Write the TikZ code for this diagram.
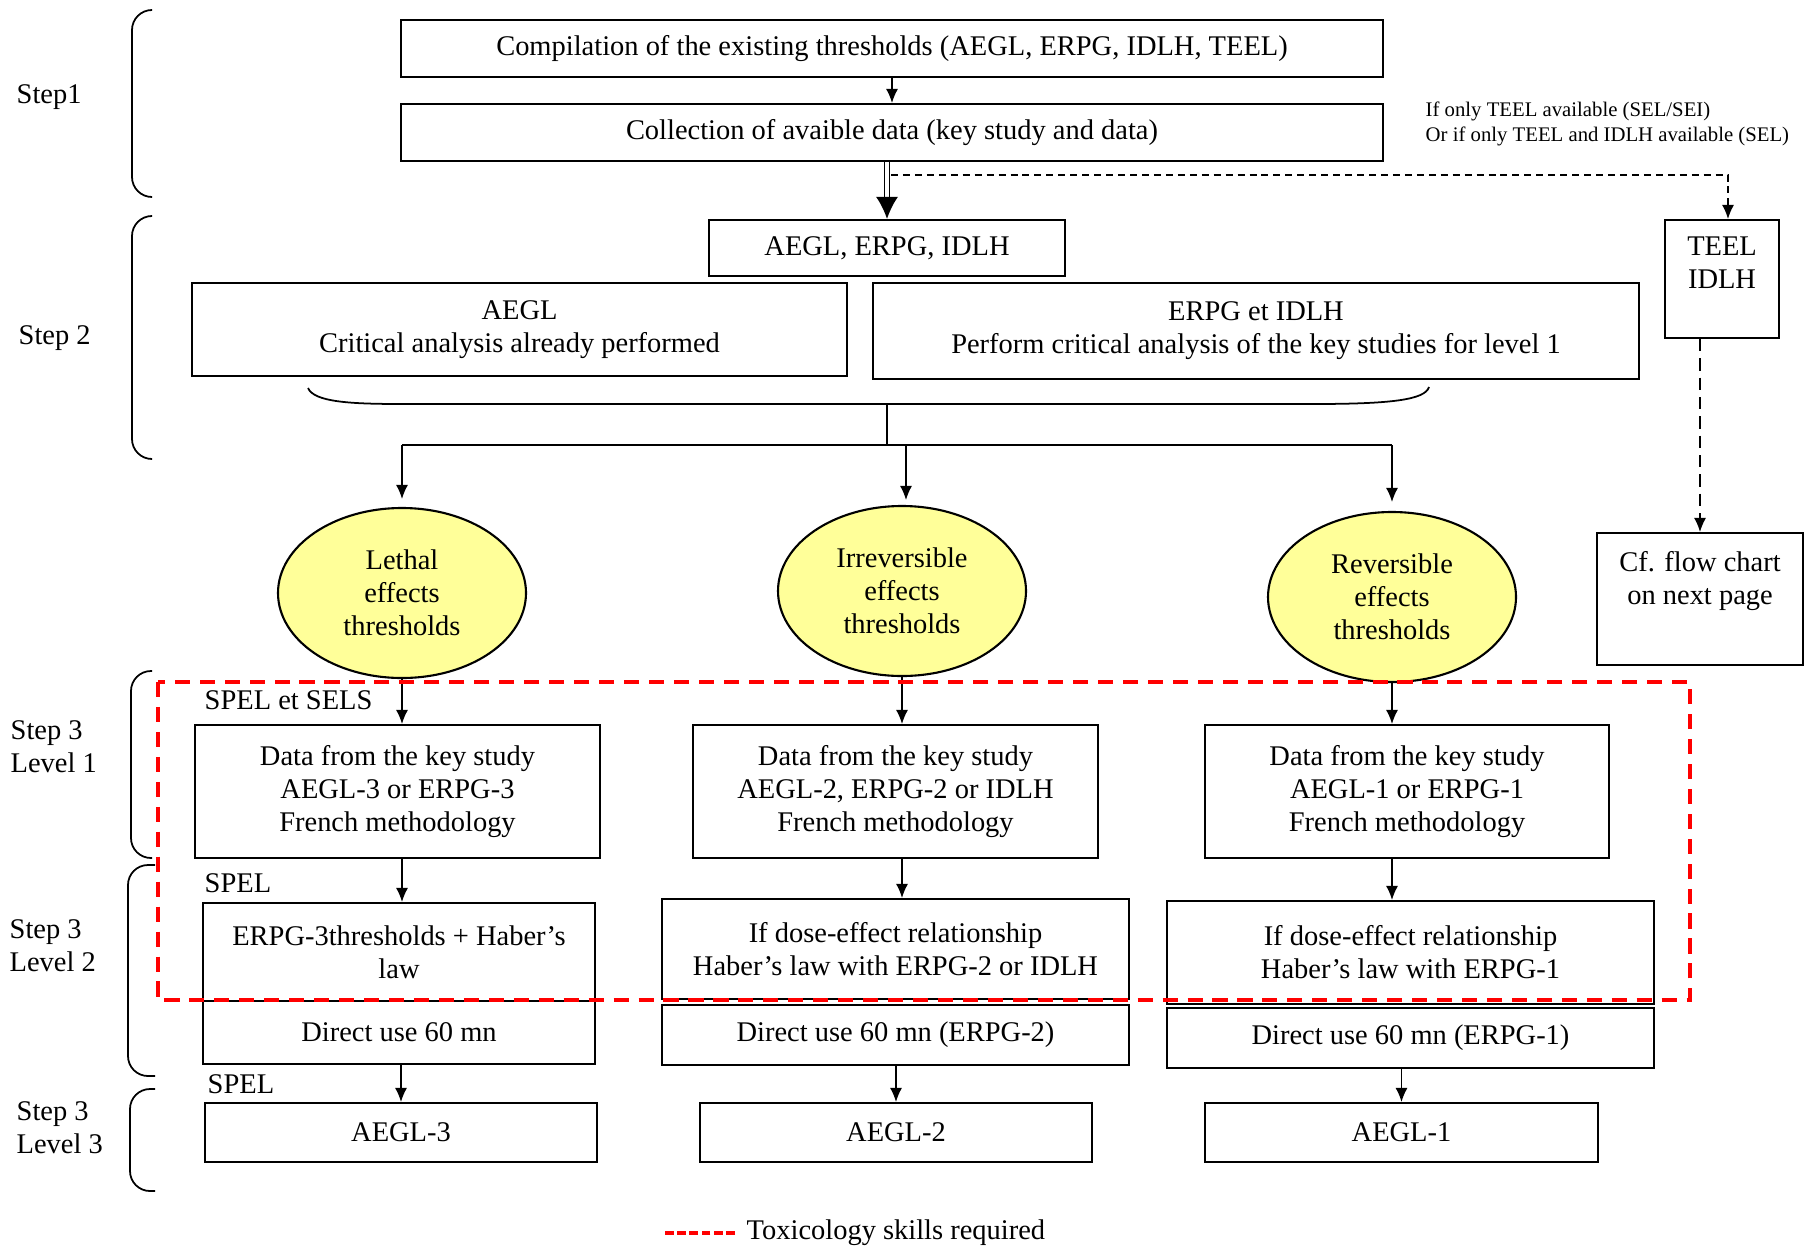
\documentclass[tikz,border=0pt]{standalone}
\usepackage{fontspec}
\setmainfont{Liberation Serif}
\usetikzlibrary{shapes.geometric,arrows.meta}
\definecolor{thryellow}{RGB}{255,255,153}

\begin{document}
\begin{tikzpicture}[x=1cm, y=-1cm, font=\fontsize{8.1}{9.4}\selectfont,
    box/.style={draw, line width=0.6pt, inner sep=0pt, align=center},
    thres/.style={ellipse, draw, line width=0.6pt, fill=thryellow, inner sep=0pt, align=center, minimum width=2.48cm, minimum height=1.70cm},
    arr/.style={-{Latex[length=1.4mm,width=1.2mm]}, line width=0.4pt},
    tox/.style={red, line width=0.95pt, dash pattern=on 4.3pt off 2.8pt},
    grp/.style={line width=0.5pt, rounded corners=0.2cm},
    lbl/.style={inner sep=0pt, align=left, anchor=west}]
\useasboundingbox (0,0) rectangle (18.05,12.47);

\node[box, minimum width=9.82cm, minimum height=0.57cm] (comp) at (8.92,0.485) {Compilation of the existing thresholds (AEGL, ERPG, IDLH, TEEL)};
\node[box, minimum width=9.82cm, minimum height=0.57cm] (coll) at (8.92,1.325) {Collection of avaible data (key study and data)};
\node[lbl, font=\fontsize{5.9}{7.1}\selectfont] (note) at (14.25,1.24) {If only TEEL available (SEL/SEI)\\Or if only TEEL and IDLH available (SEL)};

\node[box, minimum width=3.56cm, minimum height=0.56cm] (thr) at (8.87,2.48) {AEGL, ERPG, IDLH};
\node[box, minimum width=1.14cm, minimum height=1.18cm] (teel) at (17.22,2.79) {TEEL\\IDLH\\\mbox{}};
\node[box, minimum width=6.55cm, minimum height=0.93cm] (aegl) at (5.195,3.295) {AEGL\\Critical analysis already performed};
\node[box, minimum width=7.66cm, minimum height=0.96cm] (erpg) at (12.56,3.31) {ERPG et IDLH\\Perform critical analysis of the key studies for level 1};

\node[thres] (lethal) at (4.02,5.93) {Lethal\\effects\\thresholds};
\node[thres] (irrev) at (9.02,5.91) {Irreversible\\effects\\thresholds};
\node[thres] (rev) at (13.92,5.97) {Reversible\\effects\\thresholds};
\node[box, minimum width=2.06cm, minimum height=1.32cm] (cf) at (17.00,5.99) {Cf. flow chart\\on next page\\\strut};

\node[box, minimum width=4.05cm, minimum height=1.33cm] (l1a) at (3.975,7.915) {Data from the key study\\AEGL-3 or ERPG-3\\French methodology};
\node[box, minimum width=4.05cm, minimum height=1.33cm] (l1b) at (8.955,7.915) {Data from the key study\\AEGL-2, ERPG-2 or IDLH\\French methodology};
\node[box, minimum width=4.04cm, minimum height=1.33cm] (l1c) at (14.07,7.915) {Data from the key study\\AEGL-1 or ERPG-1\\French methodology};

\node[box, minimum width=3.92cm, minimum height=0.98cm] (l2a) at (3.99,9.52) {ERPG-3thresholds + Haber’s\\law};
\node[box, minimum width=3.92cm, minimum height=0.63cm] (l2a-low) at (3.99,10.325) {Direct use 60 mn};
\node[box, minimum width=4.67cm, minimum height=1.00cm] (l2b) at (8.955,9.49) {If dose-effect relationship\\Haber’s law with ERPG-2 or IDLH};
\node[box, minimum width=4.67cm, minimum height=0.60cm] (l2b-low) at (8.955,10.35) {Direct use 60 mn (ERPG-2)};
\node[box, minimum width=4.87cm, minimum height=1.03cm] (l2c) at (14.105,9.525) {If dose-effect relationship\\Haber’s law with ERPG-1};
\node[box, minimum width=4.87cm, minimum height=0.60cm] (l2c-low) at (14.105,10.38) {Direct use 60 mn (ERPG-1)};

\node[box, minimum width=3.92cm, minimum height=0.59cm] (l3a) at (4.01,11.325) {AEGL-3};
\node[box, minimum width=3.92cm, minimum height=0.59cm] (l3b) at (8.96,11.325) {AEGL-2};
\node[box, minimum width=3.93cm, minimum height=0.59cm] (l3c) at (14.015,11.325) {AEGL-1};

\node[lbl] (spel1) at (2.04,7.00) {SPEL et SELS};
\node[lbl] (spel2) at (2.04,8.83) {SPEL};
\node[lbl] (spel3) at (2.07,10.84) {SPEL};

\node[lbl] (s1) at (0.16,0.97) {Step1};
\node[lbl] (s2) at (0.18,3.38) {Step 2};
\node[lbl] (s31) at (0.10,7.465) {Step 3\\Level 1};
\node[lbl] (s32) at (0.09,9.455) {Step 3\\Level 2};
\node[lbl] (s33) at (0.16,11.275) {Step 3\\Level 3};

\draw[grp] (1.52,0.10) -- (1.32,0.10) -- (1.32,1.97) -- (1.52,1.97);
\draw[grp] (1.52,2.16) -- (1.32,2.16) -- (1.32,4.59) -- (1.52,4.59);
\draw[grp] (1.52,6.71) -- (1.31,6.71) -- (1.31,8.58) -- (1.52,8.58);
\draw[grp] (1.55,8.65) -- (1.28,8.65) -- (1.28,10.76) -- (1.55,10.76);
\draw[grp] (1.55,10.89) -- (1.30,10.89) -- (1.30,11.91) -- (1.55,11.91);

\draw[arr] (comp) -- (coll);
\draw[double, double distance=0.9pt, line width=0.5pt, -{Latex[length=2.2mm,width=2.2mm]}] (coll.south -| thr.north) -- (thr.north);
\coordinate (split) at (8.91,1.75);
\draw[arr, dash pattern=on 2pt off 1.4pt] (split) -| ([xshift=0.06cm]teel.north);
\draw[arr, dash pattern=on 3.5pt off 2pt] (cf.north |- teel.south) -- (cf.north);

\coordinate (bmid) at (8.87,4.04);
\draw[line width=0.5pt] (3.08,3.88) .. controls (3.14,4.02) and (3.50,4.04) .. (4.02,4.04) -- (13.13,4.04) .. controls (13.90,4.04) and (14.25,4.00) .. (14.29,3.87);
\coordinate (fork) at (8.87,4.45);
\coordinate (forkL) at (4.02,4.45);
\coordinate (forkM) at (9.06,4.45);
\coordinate (forkR) at (13.92,4.45);
\draw[line width=0.4pt] (bmid) -- (fork);
\draw[line width=0.4pt] (forkL) -- (forkR);
\draw[arr, shorten >=0.08cm] (forkL) -- (lethal.north);
\draw[arr, shorten >=0.05cm] (forkM) -- (forkM |- irrev.north);
\draw[arr, shorten >=0.09cm] (forkR) -- (rev.north);

\draw[arr] (lethal.south) -- (lethal.south |- l1a.north);
\draw[arr] (irrev.south) -- (irrev.south |- l1b.north);
\draw[arr] (rev.south) -- (rev.south |- l1c.north);
\draw[arr] (l1a.south -| lethal.south) -- (l2a.north -| lethal.south);
\draw[arr] (l1b.south -| irrev.south) -- (l2b.north -| irrev.south);
\draw[arr] (l1c.south -| rev.south) -- (l2c.north -| rev.south);
\draw[arr] (l3a.north |- l2a-low.south) -- (l3a.north);
\draw[arr] (l3b.north |- l2b-low.south) -- (l3b.north);
\draw[arr] (l3c.north |- l2c-low.south) -- (l3c.north);

\draw[tox] (1.58,6.82) rectangle (16.90,10.00);

\node[lbl] (legend) at (7.46,12.33) {Toxicology skills required};
\draw[red, line width=1.1pt, dash pattern=on 2.5pt off 1pt] ([xshift=-0.11cm]legend.west) -- ++(-0.70,0);
\end{tikzpicture}
\end{document}
